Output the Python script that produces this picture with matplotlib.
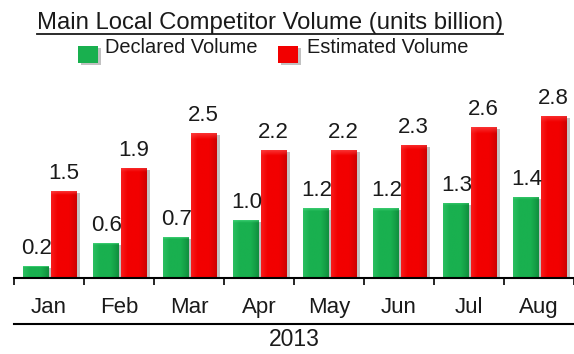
import numpy as np
import matplotlib.pyplot as plt
from matplotlib.patches import Rectangle
from matplotlib.lines import Line2D
import matplotlib.patheffects as pe

plt.rcParams['font.family'] = ['Liberation Sans', 'DejaVu Sans']

# data
months = ['Jan', 'Feb', 'Mar', 'Apr', 'May', 'Jun', 'Jul', 'Aug']
declared = [0.2, 0.6, 0.7, 1.0, 1.2, 1.2, 1.3, 1.4]
estimated = [1.5, 1.9, 2.5, 2.2, 2.2, 2.3, 2.6, 2.8]
series_names = ['Declared Volume', 'Estimated Volume']
year_label = '2013'
title = 'Main Local Competitor Volume (units billion)'

GREEN = ('#4ada80', '#19b04f', '#0b7a33')
RED = ('#ff5050', '#f20000', '#b80000')


def gradient_img(light, mid, dark, nx=40, ny=120):
    from matplotlib.colors import to_rgb
    l, m, d = (np.array(to_rgb(c)) for c in (light, mid, dark))
    xs = np.linspace(0, 1, nx)
    # left edge a bit lighter, right edge darker
    wl = np.clip(1 - xs / 0.25, 0, 1) * 0.35
    wd = np.clip((xs - 0.7) / 0.3, 0, 1) * 0.6
    row = m[None, :] * (1 - wl - wd)[:, None] + l[None, :] * wl[:, None] + d[None, :] * wd[:, None]
    img = np.repeat(row[None, :, :], ny, axis=0)
    # top highlight
    ys = np.linspace(0, 1, ny)
    wt = np.clip(1 - ys / 0.04, 0, 1) * 0.6
    img = img * (1 - wt)[:, None, None] + l[None, None, :] * wt[:, None, None]
    return img


def shade(ax, bars, cols):
    for b in bars:
        x, y = b.get_x(), b.get_y()
        w, h = b.get_width(), b.get_height()
        n = max(int(h * 60), 6)
        im = ax.imshow(gradient_img(*cols, ny=n), extent=(x, x + w, y, y + h),
                       origin='upper', aspect='auto', interpolation='bilinear', zorder=3)
        im.set_clip_path(b)


fig = plt.figure(figsize=(5.74, 3.54), dpi=100)
ax = fig.add_axes([14 / 574, 76 / 354, 560 / 574, 197.2 / 354])

x = np.arange(len(months)) + 0.5
width = 0.37
shadow = [pe.SimplePatchShadow(offset=(2.5, -1.5), shadow_rgbFace='#777777', alpha=0.45), pe.Normal()]

b1 = ax.bar(x - 0.18, declared, width, color=GREEN[1], edgecolor='none', zorder=2)
b2 = ax.bar(x + 0.21, estimated, width, color=RED[1], edgecolor='none', zorder=2)
for b in list(b1) + list(b2):
    b.set_path_effects(shadow)
shade(ax, b1, GREEN)
shade(ax, b2, RED)

for bars, vals in ((b1, declared), (b2, estimated)):
    for b, v in zip(bars, vals):
        ax.annotate(f'{v:.1f}', (b.get_x() + b.get_width() / 2, v),
                    xytext=(0, 5), textcoords='offset points',
                    ha='center', va='bottom', fontsize=16, color='#1a1a1a', zorder=5)

ax.set_xlim(0, len(months))
ax.set_ylim(0, 3.4)
for s in ('top', 'right', 'left'):
    ax.spines[s].set_visible(False)
ax.spines['bottom'].set_linewidth(1.5)
ax.spines['bottom'].set_zorder(6)
ax.set_yticks([])
ax.set_xticks(x)
ax.set_xticklabels(months, fontsize=16, color='#1a1a1a')
ax.tick_params(axis='x', which='major', length=0, pad=14)
ax.set_xticks(np.arange(len(months) + 1), minor=True)
ax.tick_params(axis='x', which='minor', length=5, width=1.2, direction='out')
ax.set_facecolor('none')

# year line and label under the months
fig.add_artist(Line2D([14 / 574, 1.0], [0.086, 0.086], color='black', lw=1.5))
fig.text(0.513, 0.042, year_label, ha='center', va='center', fontsize=16.5, color='#1a1a1a')

# underlined title
t = fig.text(0.470, 0.917, title, ha='center', va='baseline', fontsize=17.2, color='#1a1a1a')
fig.canvas.draw()
bb = t.get_window_extent().transformed(fig.transFigure.inverted())
fig.add_artist(Line2D([bb.x0, bb.x1], [0.905, 0.905], color='#1a1a1a', lw=1.3))

# legend boxes
leg_items = [(series_names[0], GREEN[1], 78, 105), (series_names[1], RED[1], 278, 307)]
for name, col, sx, tx in leg_items:
    r = Rectangle((sx / 574, (354 - 63) / 354), 20 / 574, 17 / 354, transform=fig.transFigure,
                  facecolor=col, edgecolor='none')
    r.set_path_effects(shadow)
    fig.add_artist(r)
    fig.text(tx / 574, (354 - 53) / 354, name, ha='left', va='baseline', fontsize=14.4, color='#1a1a1a')

fig.savefig('out.png', dpi=100)
